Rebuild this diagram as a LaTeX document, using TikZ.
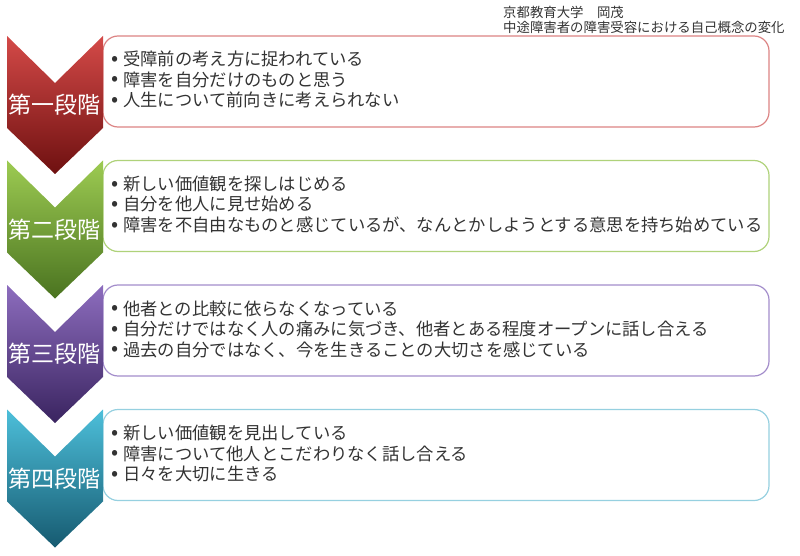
\documentclass[tikz,border=0pt]{standalone}
\usepackage{fontspec}
\setmainfont{Noto Sans CJK JP}
\usetikzlibrary{positioning}

\definecolor{txtgray}{HTML}{333333}
\definecolor{redtop}{HTML}{D44A48}
\definecolor{redbot}{HTML}{6E1010}
\definecolor{redline}{HTML}{DC8484}
\definecolor{greentop}{HTML}{9DCB52}
\definecolor{greenbot}{HTML}{4A7320}
\definecolor{greenline}{HTML}{AFD27A}
\definecolor{purpletop}{HTML}{8D6DBE}
\definecolor{purplebot}{HTML}{3A2460}
\definecolor{purpleline}{HTML}{A38DCB}
\definecolor{tealtop}{HTML}{4DBFDA}
\definecolor{tealbot}{HTML}{165A70}
\definecolor{tealline}{HTML}{96D0E0}

\newcommand{\stagebullet}{\makebox[12pt][l]{\raisebox{0.5pt}{\fontsize{21}{21}\selectfont•}}}

\tikzset{
  stagebox/.style={line width=1.2pt, fill=white, rounded corners=15pt},
  stagelabel/.style={text=white, font=\fontsize{23}{23}\selectfont, inner sep=0pt},
  itemtext/.style={anchor=base west, inner sep=0pt, text=txtgray, font=\fontsize{17.3}{20}\selectfont},
  titletext/.style={anchor=base west, inner sep=0pt, text=txtgray, font=\fontsize{13.4}{15}\selectfont}
}

\begin{document}
\begin{tikzpicture}[x=1pt, y=-1pt]
	\useasboundingbox (0,0) rectangle (800,556);
	%title
		\node[titletext] (univ) at (503,18) {京都教育大学　岡茂};
		\node[titletext] (title) at (503,33) {中途障害者の障害受容における自己概念の変化};
	%Stage 1
		%box
			\draw[stagebox, draw=redline] (103,36) rectangle (769,127);
		%chevron
			\shade[top color=redtop, bottom color=redbot] (7,36) -- (55,83) -- (103,36) -- (103,128) -- (55,174) -- (7,128) -- cycle;
			\node[stagelabel] (lab1) at (55,105) {第一段階};
		%items
			\node[itemtext] (s1a) at (111,66) {\stagebullet 受障前の考え方に捉われている};
			\node[itemtext] (s1b) at (111,86.5) {\stagebullet 障害を自分だけのものと思う};
			\node[itemtext] (s1c) at (111,107) {\stagebullet 人生について前向きに考えられない};
	%Stage 2
		%box
			\draw[stagebox, draw=greenline] (103,160.5) rectangle (769,251.5);
		%chevron
			\shade[top color=greentop, bottom color=greenbot] (7,160.5) -- (55,207.5) -- (103,160.5) -- (103,252.5) -- (55,298.5) -- (7,252.5) -- cycle;
			\node[stagelabel] (lab2) at (55,229.5) {第二段階};
		%items
			\node[itemtext] (s2a) at (111,190.5) {\stagebullet 新しい価値観を探しはじめる};
			\node[itemtext] (s2b) at (111,211) {\stagebullet 自分を他人に見せ始める};
			\node[itemtext] (s2c) at (111,231.5) {\stagebullet 障害を不自由なものと感じているが、なんとかしようとする意思を持ち始めている};
	%Stage 3
		%box
			\draw[stagebox, draw=purpleline] (103,285) rectangle (769,376);
		%chevron
			\shade[top color=purpletop, bottom color=purplebot] (7,285) -- (55,332) -- (103,285) -- (103,377) -- (55,423) -- (7,377) -- cycle;
			\node[stagelabel] (lab3) at (55,354) {第三段階};
		%items
			\node[itemtext] (s3a) at (111,315) {\stagebullet 他者との比較に依らなくなっている};
			\node[itemtext] (s3b) at (111,335.5) {\stagebullet 自分だけではなく人の痛みに気づき、他者とある程度オープンに話し合える};
			\node[itemtext] (s3c) at (111,356) {\stagebullet 過去の自分ではなく、今を生きることの大切さを感じている};
	%Stage 4
		%box
			\draw[stagebox, draw=tealline] (103,409.5) rectangle (769,500.5);
		%chevron
			\shade[top color=tealtop, bottom color=tealbot] (7,409.5) -- (55,456.5) -- (103,409.5) -- (103,501.5) -- (55,547.5) -- (7,501.5) -- cycle;
			\node[stagelabel] (lab4) at (55,478.5) {第四段階};
		%items
			\node[itemtext] (s4a) at (111,439.5) {\stagebullet 新しい価値観を見出している};
			\node[itemtext] (s4b) at (111,460) {\stagebullet 障害について他人とこだわりなく話し合える};
			\node[itemtext] (s4c) at (111,480.5) {\stagebullet 日々を大切に生きる};
\end{tikzpicture}
\end{document}
